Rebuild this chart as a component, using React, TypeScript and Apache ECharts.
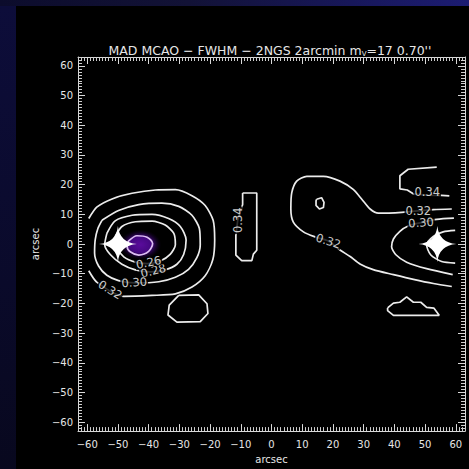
import React, { useEffect, useRef } from 'react';
import * as echarts from 'echarts';

// Axis extent (arcsec) and labelled tick positions
const AXIS_MIN = -63;
const AXIS_MAX = 63;
const MAJOR_TICKS = [-60, -50, -40, -30, -20, -10, 0, 10, 20, 30, 40, 50, 60];

// Natural guide star positions [x, y] in arcsec
const ngsStars = [
  [-50, 0],
  [54, 0],
];

// FWHM peak (best correction) near the left guide star
const peakCenter = [-42.7, -0.2];

// Iso-FWHM contours, [x, y] in arcsec
const peakContour = [
  [-46.6, 1.0], [-43.8, 2.8], [-40.5, 2.3], [-38.7, 0.2], [-40.0, -2.5],
  [-43.2, -3.7], [-46.0, -2.6], [-47.0, -0.8], [-46.6, 1.0],
];
const contour026Left = [
  [-50.9, 2.5], [-48.7, 5.9], [-44.3, 7.5], [-38.9, 7.7], [-34.6, 6.4],
  [-31.8, 3.6], [-31.3, -0.2], [-33.0, -3.5], [-36.2, -5.7], [-40.5, -6.6],
  [-44.3, -6.1], [-48.1, -4.3], [-50.3, -1.3], [-50.9, 2.5],
];
const contour028Left = [
  [-53.6, 3.6], [-50.9, 7.8], [-45.4, 9.7], [-38.9, 10.0], [-33.5, 8.6],
  [-29.7, 5.9], [-27.8, 1.4], [-28.6, -3.5], [-30.8, -6.8], [-34.6, -8.7],
  [-39.5, -9.4], [-44.3, -8.7], [-48.7, -6.8], [-52.5, -3.5], [-54.3, -0.2],
  [-53.6, 3.6],
];
const contour030Left = [
  [-55.2, 8.0], [-49.8, 11.3], [-43.2, 13.3], [-35.7, 13.8], [-30.2, 12.7],
  [-25.9, 9.7], [-23.5, 5.3], [-23.2, -0.2], [-24.3, -4.6], [-27.0, -8.5],
  [-31.3, -11.2], [-36.7, -12.7], [-44.3, -13.1], [-49.8, -12.3], [-53.6, -10.5],
  [-56.3, -7.4], [-57.6, -3.0], [-57.4, 1.4], [-56.5, 5.3], [-55.2, 8.0],
];
const contour032Left = [
  [-59.5, 8.6], [-56.8, 12.5], [-51.9, 15.2], [-45.4, 17.1], [-37.8, 18.2],
  [-31.3, 18.3], [-25.9, 16.3], [-21.6, 13.0], [-19.0, 8.0], [-18.5, 1.4],
  [-19.1, -5.2], [-21.6, -10.7], [-25.9, -14.5], [-31.3, -16.8], [-38.9, -17.3],
  [-48.1, -17.6], [-56.8, -12.9], [-59.5, -9.0],
];
const lowerIsland = [
  [-30.2, -17.3], [-23.7, -17.1], [-21.0, -20.1], [-20.7, -23.4], [-23.2, -26.1],
  [-30.8, -26.3], [-33.7, -23.9], [-33.3, -20.6], [-30.2, -17.3],
];
const contour034Center = [
  [-9.4, 17.2], [-4.8, 17.2], [-4.8, -2.1], [-5.9, -3.4], [-6.4, -5.6],
  [-9.7, -5.6], [-11.6, -3.7], [-11.6, 2.9], [-11.0, 8.0], [-9.4, 13.3],
  [-9.4, 17.2],
];
const contour032Right = [
  [58.7, 11.8], [52.7, 11.6], [42.4, 10.7], [34.8, 10.4], [32.1, 11.8],
  [29.4, 15.1], [26.6, 18.4], [22.3, 21.2], [16.9, 22.8], [11.5, 22.8],
  [8.2, 21.2], [6.6, 17.3], [6.3, 11.8], [7.1, 7.4], [10.4, 4.1],
  [14.2, 2.4], [18.5, 1.0], [22.3, -2.0], [25.6, -4.2], [28.8, -6.7],
  [33.1, -8.6], [39.7, -10.3], [46.2, -11.9], [52.7, -13.3], [58.7, -14.3],
];
const smallRing = [
  [14.7, 15.1], [16.3, 15.6], [17.1, 14.0], [16.9, 12.3], [15.6, 11.8],
  [14.5, 13.0], [14.5, 14.6], [14.7, 15.1],
];
const contour030Right = [
  [59.4, 8.7], [53.8, 8.3], [48.7, 7.2], [44.5, 6.1], [41.8, 4.3],
  [39.7, 1.7], [39.1, -0.9], [40.5, -3.6], [44.0, -6.1], [50.5, -8.3],
  [59.0, -10.3],
];
const contour028Right = [
  [59.8, 4.6], [55.9, 4.1], [52.7, 2.6], [50.5, -0.3], [51.8, -3.6],
  [55.4, -5.9], [59.8, -6.4],
];
const contour034Right = [
  [53.8, 25.9], [44.5, 25.2], [41.8, 23.0], [41.8, 18.6], [44.2, 18.2],
  [46.4, 16.8], [50.7, 16.5], [55.4, 16.4], [57.9, 16.2],
];
const mountainIsland = [
  [37.8, -21.5], [39.7, -19.9], [41.8, -19.6], [44.0, -17.8], [46.2, -19.6],
  [48.6, -19.6], [50.5, -21.3], [52.9, -21.6], [54.6, -24.0], [39.7, -24.0],
  [37.8, -22.4], [37.8, -21.5],
];

// Contour level labels: text, position [x, y], rotation in degrees
const labelTexts = ['0.28', '0.26', '0.30', '0.32', '0.34', '0.32', '0.32', '0.30', '0.34'];
const labelPositions = [
  [-38.5, -9.0], [-40.0, -6.2], [-44.7, -12.9], [-52.5, -15.4], [-11.0, 8.0],
  [47.8, 11.2], [18.5, 1.0], [48.7, 7.2], [50.7, 17.6],
];
const labelRotations = [14, 12, 4, -32, 90, 0, -18, 4, 0];

const LINE_COLOR = '#ececec';
const TEXT_COLOR = '#e6e6e6';
const FONT = 'DejaVu Sans, sans-serif';

const smoothContours = [
  contour026Left, contour028Left, contour030Left, contour032Left,
  contour032Right, contour030Right, contour028Right,
];
const angularContours = [lowerIsland, contour034Center, smallRing, contour034Right, mountainIsland];

function lineSeries(data: number[][], smooth: number, color = LINE_COLOR) {
  return {
    type: 'line',
    data,
    showSymbol: false,
    symbol: 'none',
    smooth,
    silent: true,
    z: 3,
    lineStyle: { color, width: 1.7 },
  };
}

const tickLabel = (v: number) => (v % 10 === 0 ? String(v).replace('-', '\u2212') : '');

// One axis carries the frame, the unit ticks and the labels; the other adds longer ticks every 10"
function axisPair(kind: 'x' | 'y', position: string, labelled: boolean) {
  const base = {
    type: 'value',
    min: AXIS_MIN,
    max: AXIS_MAX,
    position,
    splitLine: { show: false },
  };
  return [
    {
      ...base,
      interval: 1,
      axisLine: { show: true, onZero: false, lineStyle: { color: '#d8d8d8', width: 1 } },
      axisTick: { show: true, inside: true, length: 4, lineStyle: { color: '#cfcfcf' } },
      axisLabel: labelled
        ? {
            show: true,
            color: TEXT_COLOR,
            fontFamily: FONT,
            fontSize: 10,
            margin: kind === 'x' ? 8 : 5,
            formatter: tickLabel,
          }
        : { show: false },
      name: labelled ? 'arcsec' : '',
      nameLocation: 'middle',
      nameGap: kind === 'x' ? 21 : 31,
      nameTextStyle: { color: TEXT_COLOR, fontFamily: FONT, fontSize: 10 },
    },
    {
      ...base,
      axisLine: { show: false, onZero: false },
      axisTick: { show: true, inside: true, length: 7, customValues: MAJOR_TICKS, lineStyle: { color: '#d8d8d8' } },
      axisLabel: { show: false },
    },
  ];
}

export default function App() {
  const ref = useRef<HTMLDivElement>(null);

  useEffect(() => {
    document.body.style.margin = '0';
    if (!ref.current) return;
    const chart = echarts.init(ref.current, null, { renderer: 'svg' });

    const star = 'path://M0,-18 Q1.5,-1.5 18,0 Q1.5,1.5 0,18 Q-1.5,1.5 -18,0 Q-1.5,-1.5 0,-18 Z';

    const series: any[] = [
      {
        type: 'scatter',
        data: [peakCenter],
        symbol: 'circle',
        symbolSize: [42, 30],
        silent: true,
        z: 1,
        itemStyle: {
          opacity: 1,
          color: new echarts.graphic.RadialGradient(0.5, 0.5, 0.5, [
            { offset: 0, color: '#5a0c9c' },
            { offset: 0.55, color: '#440880' },
            { offset: 1, color: 'rgba(20,0,40,0)' },
          ]),
        },
      },
      lineSeries(peakContour, 0.3, '#dcbdf2'),
      ...smoothContours.map((c) => lineSeries(c, 0.25)),
      ...angularContours.map((c) => lineSeries(c, 0)),
      {
        type: 'scatter',
        silent: true,
        symbolSize: 0,
        z: 5,
        data: labelPositions.map((p, i) => ({
          value: p,
          label: { rotate: labelRotations[i], formatter: labelTexts[i] },
        })),
        label: {
          show: true,
          position: 'inside',
          color: '#ffffff',
          fontFamily: FONT,
          fontSize: 11.5,
          lineHeight: 8,
          backgroundColor: '#000000',
          padding: [1, 1],
        },
      },
      {
        type: 'scatter',
        silent: true,
        data: ngsStars,
        symbol: star,
        symbolSize: [38, 36],
        z: 6,
        itemStyle: { color: '#ffffff', opacity: 1 },
      },
    ];

    chart.setOption({
      animation: false,
      backgroundColor: '#000000',
      grid: { left: 62, top: 51, width: 387, height: 381, containLabel: false },
      xAxis: [...axisPair('x', 'bottom', true), ...axisPair('x', 'top', false)],
      yAxis: [...axisPair('y', 'left', true), ...axisPair('y', 'right', false)],
      graphic: [
        {
          type: 'text',
          x: 254,
          y: 44,
          style: {
            text: "MAD MCAO \u2212 FWHM \u2212 2NGS 2arcmin m{sub|V}=17 0.70''",
            fill: TEXT_COLOR,
            fontFamily: FONT,
            fontSize: 12.5,
            align: 'center',
            verticalAlign: 'middle',
            rich: {
              sub: { fontSize: 7, fill: TEXT_COLOR, fontFamily: FONT, padding: [7, 0, 0, 0] },
            },
          },
        },
      ],
      series,
    });

    return () => chart.dispose();
  }, []);

  return (
    <div
      style={{
        position: 'relative',
        width: 469,
        height: 469,
        background:
          'linear-gradient(90deg, #0c0c2c 0%, #121236 40%, #17175a 75%, #1c1c72 100%)',
        overflow: 'hidden',
      }}
    >
      <div
        style={{
          position: 'absolute',
          left: 0,
          top: 6,
          width: 16,
          height: 463,
          background: 'linear-gradient(180deg, #0d0d3a 0%, #0a0a2a 60%, #08081e 100%)',
        }}
      />
      <div ref={ref} style={{ position: 'absolute', left: 16, top: 6, width: 453, height: 463 }} />
    </div>
  );
}
